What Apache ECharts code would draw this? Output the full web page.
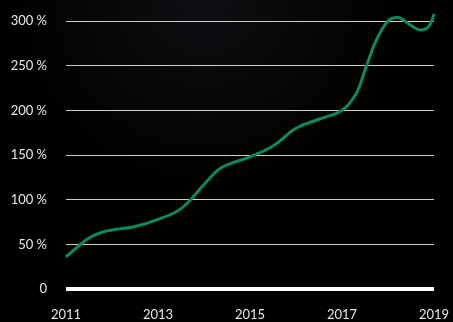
<!DOCTYPE html>
<html><head><meta charset="utf-8">
<script src="https://cdn.jsdelivr.net/npm/echarts@6/dist/echarts.min.js"></script>
<style>html,body{margin:0;padding:0;background:#000;}#c{width:453px;height:322px;}</style>
</head><body><div id="c"></div>
<script>
const years = [2011.0, 2011.25, 2011.5, 2011.75, 2012.0, 2012.5, 2013.0, 2013.5, 2014.0, 2014.3, 2014.5, 2015.0, 2015.5, 2016.0, 2016.5, 2017.0, 2017.3, 2017.5, 2017.75, 2018.0, 2018.2, 2018.5, 2018.7, 2018.87, 2019.0];
const values = [36, 47, 57, 63, 66, 70, 78, 90, 117, 133, 139, 148, 160, 180, 190, 200, 218, 245, 279, 300, 304, 295, 290, 293, 308];
const xTicks = [2011, 2013, 2015, 2017, 2019];
const yTicks = [0, 50, 100, 150, 200, 250, 300];

const chart = echarts.init(document.getElementById('c'), null, {renderer: 'canvas'});
chart.setOption({
  backgroundColor: {type: 'radial', x: 0.45, y: 0, r: 0.6, colorStops: [{offset: 0, color: '#0d0f12'}, {offset: 1, color: '#000'}]},
  animation: false,
  grid: {left: 66, right: 19, top: 21, bottom: 33},
  xAxis: {
    type: 'value', min: 2011, max: 2019, interval: 2,
    axisLine: {show: false},
    axisTick: {show: false},
    splitLine: {show: false},
    axisLabel: {color: '#e8e8e8', fontSize: 13, fontFamily: 'Lato', margin: 19,
      formatter: v => xTicks.includes(v) ? String(v) : ''}
  },
  yAxis: {
    type: 'value', min: 0, max: 300, interval: 50,
    axisLine: {show: false},
    axisTick: {show: false},
    splitLine: {lineStyle: {color: '#d0d0d0', width: 1}},
    axisLabel: {color: '#e8e8e8', fontSize: 13, fontFamily: 'Lato', margin: 19,
      formatter: v => yTicks.includes(v) ? (v === 0 ? '0' : v + ' %') : ''}
  },
  series: [
    {type: 'line', data: years.map((y, i) => [y, values[i]]), smooth: 0.4, showSymbol: false, clip: false,
     lineStyle: {color: '#0b8a5c', width: 3}, z: 3},
    {type: 'line', data: [[2011, 0], [2019, 0]], showSymbol: false, silent: true,
     lineStyle: {color: '#ffffff', width: 4}, z: 2}
  ]
});
</script></body></html>
